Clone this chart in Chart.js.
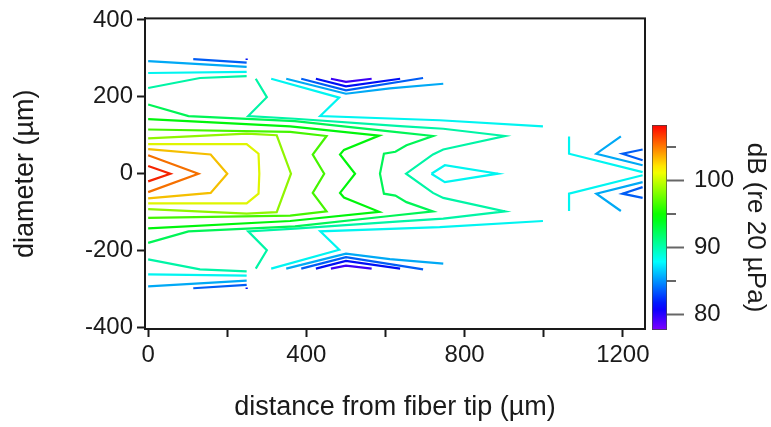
<!DOCTYPE html>
<html lang="en">
<head>
    <meta charset="UTF-8">
    <title>Contour</title>
    <script src="https://cdn.jsdelivr.net/npm/chart.js"></script>
    <style>
        body { margin: 0; background: #fff; }
        #wrap { position: relative; width: 771px; height: 427px; }
        #plot { position: absolute; left: 0; top: 0; }
        #cbar { position: absolute; left: 645px; top: 0; }
    </style>
</head>
<body>
<div id="wrap">
    <canvas id="plot" width="771" height="427"></canvas>
    <canvas id="cbar" width="126" height="427"></canvas>
</div>

<script>
// axes
const xTicks = [0, 200, 400, 600, 800, 1000, 1200];
const xLabels = [0, 400, 800, 1200];
const yTicks = [-400, -200, 0, 200, 400];

// colour bar (dB)
const cbMin = 77.7, cbMax = 108.3;
const cbTicks = [80, 85, 90, 95, 100, 105];
const cbLabels = [80, 90, 100];

// contour levels (dB), each with its line pieces as [distance, diameter]
const lv1073 = [
    [[0, 20], [56, 0], [0, -20]]
];
const lv1052 = [
    [[0, 48], [127, 0], [0, -48]]
];
const lv1030 = [
    [[0, 64], [158, 50], [200, 0], [158, -50], [0, -64]]
];
const lv1009 = [
    [[0, 77], [249, 77], [279, 52], [281, 0], [279, -52], [249, -77], [0, -77]]
];
const lv987 = [
    [[0, 92], [249, 104], [325, 100], [361, 0], [325, -100], [249, -104], [0, -92]]
];
const lv966 = [
    [[0, 115], [359, 109], [451, 98], [416, 50], [445, 0], [416, -50], [451, -98], [359, -109], [0, -115]]
];
const lv944 = [
    [[0, 142], [359, 123], [584, 99], [495, 62], [485, 50], [523, 0], [485, -50], [495, -62], [584, -99], [359, -123], [0, -142]]
];
const lv923 = [
    [[0, 180], [102, 150], [371, 137], [611, 110], [720, 98], [653, 74], [625, 57], [596, 52], [586, 0],
     [596, -52], [625, -57], [653, -74], [720, -98], [611, -110], [371, -137], [102, -150], [0, -180]]
];
const lv901 = [
    [[0, 223], [131, 249], [249, 254]],
    [[0, -223], [131, -249], [249, -254]],
    [[272, 247], [300, 199], [253, 150], [371, 143], [637, 124], [746, 117], [902, 98], [746, 63], [720, 50], [652, 0],
     [720, -50], [746, -63], [902, -98], [746, -117], [637, -124], [371, -143], [253, -150], [300, -199], [272, -247]]
];
const lv880 = [
    [[0, 262], [249, 265]],
    [[0, -262], [249, -265]],
    [[311, 247], [483, 198], [435, 150], [737, 139], [998, 123]],
    [[311, -247], [483, -198], [435, -150], [737, -139], [998, -123]],
    [[716, 0], [750, 22], [884, 0], [750, -22], [716, 0]],
    [[1064, 97], [1064, 52], [1250, 4]],
    [[1064, -97], [1064, -52], [1250, -4]]
];
const lv858 = [
    [[0, 293], [249, 278]],
    [[0, -293], [249, -278]],
    [[349, 247], [500, 208], [611, 222], [746, 234]],
    [[349, -247], [500, -208], [611, -222], [746, -234]],
    [[1195, 97], [1133, 52], [1250, 22]],
    [[1195, -97], [1133, -52], [1250, -22]]
];
const lv837 = [
    [[114, 298], [249, 289]],
    [[114, -298], [249, -289]],
    [[387, 247], [500, 217], [695, 249]],
    [[387, -247], [500, -217], [695, -249]],
    [[1250, 63], [1199, 52], [1250, 35]],
    [[1250, -63], [1199, -52], [1250, -35]]
];
const lv815 = [
    [[249, 300], [249, 296]],
    [[249, -300], [249, -296]],
    [[424, 247], [500, 227], [637, 247]],
    [[424, -247], [500, -227], [637, -247]]
];
const lv794 = [
    [[462, 247], [500, 239], [565, 247]],
    [[462, -247], [500, -239], [565, -247]]
];

const levels = [107.3, 105.2, 103.0, 100.9, 98.7, 96.6, 94.4, 92.3, 90.1, 88.0, 85.8, 83.7, 81.5, 79.4];
const pieces = [lv1073, lv1052, lv1030, lv1009, lv987, lv966, lv944, lv923, lv901, lv880, lv858, lv837, lv815, lv794];

const FONT = "'Liberation Sans', Arial, sans-serif";
const INK = '#1a1a1a';

// rainbow: violet at the bottom of the bar, red at the top
function hueOf(v) {
    return 270 * (cbMax - v) / (cbMax - cbMin);
}
function colorOf(v) {
    return 'hsl(' + hueOf(v).toFixed(1) + ', 100%, 48%)';
}

const datasets = [];
levels.forEach((lv, i) => {
    pieces[i].forEach(seg => {
        datasets.push({
            data: seg.map(p => ({ x: p[0], y: p[1] })),
            showLine: true,
            borderColor: colorOf(lv),
            borderWidth: 2.2,
            borderJoinStyle: 'miter',
            pointRadius: 0,
            tension: 0,
            fill: false
        });
    });
});

// top and right side of the box
const frame = {
    id: 'frame',
    afterDraw(chart) {
        const a = chart.chartArea, c = chart.ctx;
        c.save();
        c.strokeStyle = INK;
        c.lineWidth = 2;
        c.strokeRect(a.left, a.top, a.right - a.left, a.bottom - a.top);
        c.restore();
    }
};

new Chart(document.getElementById('plot'), {
    type: 'scatter',
    data: { datasets: datasets },
    options: {
        responsive: false,
        animation: false,
        layout: { padding: { top: 17, right: 126, left: 0, bottom: 0 } },
        plugins: { legend: { display: false }, tooltip: { enabled: false } },
        scales: {
            x: {
                type: 'linear', min: -8, max: 1256,
                afterFit: s => { s.height = 98; },
                afterBuildTicks: s => { s.ticks = xTicks.map(v => ({ value: v })); },
                ticks: {
                    autoSkip: false, maxRotation: 0, padding: 4, color: INK,
                    font: { family: FONT, size: 24 },
                    callback: v => xLabels.includes(v) ? String(v) : ''
                },
                grid: { drawOnChartArea: false, tickLength: 8, tickWidth: 2, tickColor: INK },
                border: { color: INK, width: 2 },
                title: {
                    display: true, text: 'distance from fiber tip (µm)', color: INK,
                    font: { family: FONT, size: 27 }, padding: { top: 0, bottom: 3 }
                }
            },
            y: {
                type: 'linear', min: -404, max: 404,
                afterFit: s => { s.width = 145; },
                afterBuildTicks: s => { s.ticks = yTicks.map(v => ({ value: v })); },
                ticks: {
                    padding: 4, color: INK,
                    font: { family: FONT, size: 24 },
                    callback: v => String(v)
                },
                grid: { drawOnChartArea: false, tickLength: 8, tickWidth: 2, tickColor: INK },
                border: { color: INK, width: 2 },
                title: {
                    display: true, text: 'diameter (µm)', color: INK,
                    font: { family: FONT, size: 27 }, padding: { top: 9, bottom: 0 }
                }
            }
        }
    },
    plugins: [frame]
});

// short ticks between the labelled ones
const minorTicks = {
    id: 'minorTicks',
    afterDraw(chart) {
        const s = chart.scales.y, c = chart.ctx;
        c.save();
        c.strokeStyle = '#666';
        c.lineWidth = 2;
        cbTicks.filter(v => !cbLabels.includes(v)).forEach(v => {
            const y = Math.round(s.getPixelForValue(v));
            c.beginPath();
            c.moveTo(s.left, y);
            c.lineTo(s.left + 9, y);
            c.stroke();
        });
        c.restore();
    }
};

function barGradient(ctx) {
    const area = ctx.chart.chartArea;
    if (!area) return null;
    const g = ctx.chart.ctx.createLinearGradient(0, area.bottom, 0, area.top);
    for (let i = 0; i <= 30; i++) {
        const t = i / 30;
        g.addColorStop(t, 'hsl(' + (270 * (1 - t)).toFixed(1) + ', 100%, 50%)');
    }
    return g;
}

new Chart(document.getElementById('cbar'), {
    type: 'bar',
    data: {
        labels: [''],
        datasets: [{
            data: [[cbMin, cbMax]],
            backgroundColor: barGradient,
            borderColor: '#444',
            borderWidth: 1,
            borderSkipped: false,
            barPercentage: 1,
            categoryPercentage: 1
        }]
    },
    options: {
        responsive: false,
        animation: false,
        layout: { padding: { top: 125, bottom: 97, left: 7, right: 0 } },
        plugins: { legend: { display: false }, tooltip: { enabled: false } },
        scales: {
            x: { display: false },
            y: {
                position: 'right', min: cbMin, max: cbMax,
                afterFit: s => { s.width = 104; },
                afterBuildTicks: s => { s.ticks = cbTicks.map(v => ({ value: v })); },
                ticks: {
                    padding: 10, color: INK,
                    font: { family: FONT, size: 24 },
                    callback: v => cbLabels.includes(v) ? String(v) : ''
                },
                grid: {
                    drawOnChartArea: false, tickLength: 17, tickWidth: 2,
                    tickColor: c => cbLabels.includes(c.tick.value) ? '#666' : 'rgba(0,0,0,0)'
                },
                border: { display: false },
                title: {
                    display: true, text: 'dB (re 20 µPa)', color: INK,
                    font: { family: FONT, size: 26 }, padding: 0
                }
            }
        }
    },
    plugins: [minorTicks]
});
</script>
</body>
</html>
